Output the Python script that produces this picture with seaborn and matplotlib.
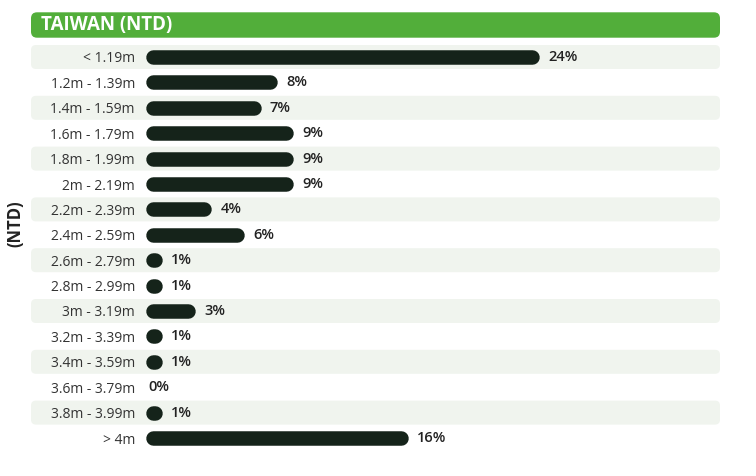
import matplotlib
matplotlib.use("Agg")
import matplotlib.pyplot as plt
from matplotlib.patches import FancyBboxPatch
import seaborn as sns
import pandas as pd

# ---- data ----
categories = ["< 1.19m", "1.2m - 1.39m", "1.4m - 1.59m", "1.6m - 1.79m", "1.8m - 1.99m",
              "2m - 2.19m", "2.2m - 2.39m", "2.4m - 2.59m", "2.6m - 2.79m", "2.8m - 2.99m",
              "3m - 3.19m", "3.2m - 3.39m", "3.4m - 3.59m", "3.6m - 3.79m", "3.8m - 3.99m",
              "> 4m"]
values = [24, 8, 7, 9, 9, 9, 4, 6, 1, 1, 3, 1, 1, 0, 1, 16]
title = "TAIWAN (NTD)"
axis_label = "(NTD)"

sns.set_theme(style="white")
plt.rcParams['font.family'] = ['Open Sans', 'DejaVu Sans']

W, H = 756, 476
fig = plt.figure(figsize=(W / 100, H / 100), dpi=100)

# geometry (pixels)
x0_px, x1_px = 146, 720
band_left_px = 31
top_px, bot_px = 44.3, 450.7
px_per_unit = 16.4
row_px = (bot_px - top_px) / len(categories)

ax = fig.add_axes([x0_px / W, 1 - bot_px / H, (x1_px - x0_px) / W, (bot_px - top_px) / H])

df = pd.DataFrame({"range": categories, "pct": values})
bar_h_px = 14.5
bar_color = "#15231a"
sns.barplot(data=df, x="pct", y="range", orient="h", color=bar_color,
            width=bar_h_px / row_px, ax=ax, saturation=1)

ax.set_xlim(0, (x1_px - x0_px) / px_per_unit)
ax.set_ylim(len(categories) - 0.5, -0.5)

aspect = px_per_unit / row_px

# replace bars with round-capped strokes spanning the same extent
r_bar = (bar_h_px / 2) / px_per_unit
for p in list(ax.patches):
    x, y = p.get_x(), p.get_y()
    w, h = p.get_width(), p.get_height()
    p.set_visible(False)
    if w <= 0:
        continue
    yc = y + h / 2
    xa, xb = x + r_bar, x + w - r_bar
    if xb < xa:
        xa = xb = x + w / 2
    ax.plot([xa, xb], [yc, yc], color=bar_color, lw=bar_h_px * 0.72,
            solid_capstyle="round", zorder=3)

# alternating bands
band_left = (band_left_px - x0_px) / px_per_unit
band_right = (x1_px - x0_px) / px_per_unit
r_band = 5 / px_per_unit
band_h = 24 / row_px
for i in range(0, len(categories), 2):
    fb = FancyBboxPatch((band_left, i - band_h / 2), band_right - band_left, band_h,
                        boxstyle=f"round,pad=0,rounding_size={r_band}",
                        mutation_aspect=aspect, fc="#f0f4ee", ec="none",
                        zorder=0, clip_on=False)
    ax.add_patch(fb)

# value labels
for i, v in enumerate(values):
    off = (9 if v > 0 else 2) / px_per_unit
    ax.text(v + off, i, f"{v}%", va="center", ha="left", fontsize=10.5,
            fontweight="semibold", color="#222222", zorder=4)

# axes styling
for s in ax.spines.values():
    s.set_visible(False)
ax.set_xticks([])
ax.set_xlabel("")
ax.set_ylabel("")
ax.tick_params(axis="y", length=0, pad=11 * 0.72, labelsize=10, labelcolor="#333333")
ax.set_facecolor("none")

# header
hdr = FancyBboxPatch((31 / W, 1 - 37.7 / H), (720 - 31) / W, 25.4 / H,
                     boxstyle="round,pad=0,rounding_size=0.008",
                     mutation_aspect=W / H, transform=fig.transFigure,
                     fc="#52ae3a", ec="none")
fig.patches.append(hdr)
fig.text(41 / W, 1 - 25 / H, title, color="white", fontsize=13.5, fontweight="bold",
         va="center", ha="left")

# y-axis label
fig.text(15 / W, 1 - 224 / H, axis_label, rotation=90, fontsize=12, fontweight="bold",
         color="#222222", va="center", ha="center")

fig.savefig("out.png", dpi=100, facecolor="white")
